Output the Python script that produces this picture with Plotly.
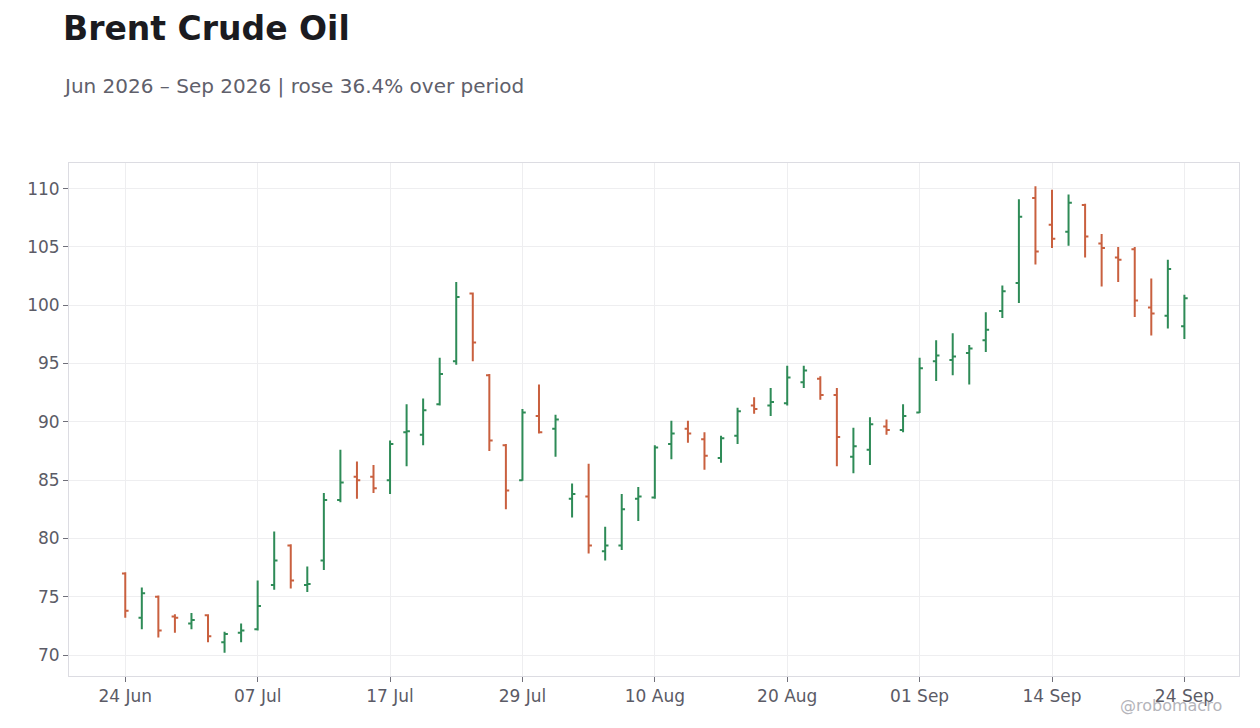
import pandas as pd
import plotly.graph_objects as go

# trading days (US calendar, 3 Jul and 7 Sep closed)
holidays = ["2026-07-03", "2026-09-07"]
dates = pd.bdate_range("2026-06-24", "2026-09-24", freq="C", holidays=holidays)
date_labels = [d.strftime("%Y-%m-%d") for d in dates]

opens = [77.0, 73.2, 75.0, 73.3, 72.7, 73.4, 71.1, 71.9, 72.2, 76.0,
         79.4, 76.0, 78.1, 83.3, 85.3, 85.3, 85.0, 89.1, 88.9, 91.5,
         95.2, 101.0, 94.0, 88.0, 85.0, 90.5, 89.4, 83.4, 83.6, 78.9,
         79.4, 83.4, 83.5, 88.1, 89.4, 88.5, 86.9, 88.8, 91.4, 91.4,
         91.6, 93.4, 93.7, 92.3, 87.0, 87.6, 89.6, 89.3, 90.8, 95.2,
         95.3, 95.9, 97.0, 99.5, 101.9, 109.2, 106.9, 106.3, 108.6, 105.3,
         104.1, 104.8, 99.8, 99.1, 98.2]
highs = [77.1, 75.8, 75.1, 73.5, 73.6, 73.5, 72.0, 72.7, 76.4, 80.6,
         79.5, 77.6, 83.9, 87.6, 86.6, 86.3, 88.4, 91.5, 92.0, 95.5,
         102.0, 101.1, 94.1, 88.1, 91.1, 93.2, 90.6, 84.7, 86.4, 81.0,
         83.8, 84.4, 88.0, 90.1, 90.1, 89.1, 88.8, 91.2, 92.1, 92.9,
         94.8, 94.8, 93.9, 92.9, 89.5, 90.4, 90.2, 91.5, 95.5, 97.0,
         97.6, 96.6, 99.4, 101.7, 109.1, 110.2, 109.9, 109.5, 108.7, 106.1,
         105.0, 105.0, 102.3, 103.9, 100.9]
lows = [73.2, 72.2, 71.5, 71.9, 72.2, 71.1, 70.2, 71.1, 72.1, 75.6,
        75.7, 75.4, 77.3, 83.1, 83.4, 83.9, 83.8, 86.2, 88.0, 91.4,
        94.9, 95.2, 87.5, 82.5, 84.95, 89.0, 87.0, 81.8, 78.7, 78.1,
        79.0, 81.5, 83.4, 86.8, 88.2, 85.9, 86.5, 88.1, 90.7, 90.5,
        91.4, 92.9, 91.9, 86.2, 85.6, 86.3, 88.9, 89.1, 90.75, 93.5,
        94.0, 93.2, 96.0, 98.9, 100.2, 103.5, 104.9, 105.1, 104.1, 101.6,
        102.0, 99.0, 97.4, 98.0, 97.1]
closes = [73.8, 75.3, 72.1, 73.2, 73.0, 71.6, 71.8, 72.1, 74.2, 78.1,
          76.4, 76.1, 83.3, 84.8, 85.0, 84.3, 88.1, 89.2, 91.0, 94.1,
          100.7, 96.8, 88.4, 84.1, 90.8, 89.1, 90.2, 83.8, 79.4, 79.4,
          82.5, 83.6, 87.8, 89.0, 89.0, 87.1, 88.6, 90.9, 91.1, 91.7,
          93.8, 94.4, 92.3, 88.7, 87.9, 89.8, 89.3, 90.5, 94.6, 95.7,
          95.6, 96.3, 97.9, 101.2, 107.6, 104.6, 105.7, 108.8, 105.9, 104.9,
          103.9, 100.4, 99.3, 103.1, 100.6]

tick_vals = date_labels[::8]
tick_text = [d.strftime("%d %b") for d in dates[::8]]

UP = "#2e8b57"
DOWN = "#c9603f"
TEXT = "#5b5b66"
GRID = "#eeeef0"

fig = go.Figure()

fig.add_trace(
    go.Ohlc(
        x=date_labels,
        open=opens,
        high=highs,
        low=lows,
        close=closes,
        increasing=dict(line=dict(color=UP, width=2)),
        decreasing=dict(line=dict(color=DOWN, width=2)),
        tickwidth=0.2,
        showlegend=False,
    )
)

# title, subtitle and handle
fig.add_annotation(
    text="<b>Brent Crude Oil</b>", xref="paper", yref="paper",
    x=-0.007, y=1.262, xanchor="left", yanchor="middle", showarrow=False,
    font=dict(size=33, color="#1b1b20"),
)
fig.add_annotation(
    text="Jun 2026 – Sep 2026 | rose 36.4% over period", xref="paper", yref="paper",
    x=-0.007, y=1.150, xanchor="left", yanchor="middle", showarrow=False,
    font=dict(size=20, color="#60606b"),
)
fig.add_annotation(
    text="@robomacro", xref="paper", yref="paper",
    x=0.987, y=-0.058, xanchor="right", yanchor="middle", showarrow=False,
    font=dict(size=16, color="#b4b4ba"),
)

fig.update_layout(
    width=1260,
    height=728,
    paper_bgcolor="white",
    plot_bgcolor="white",
    font=dict(family="DejaVu Sans", size=17, color=TEXT),
    margin=dict(l=61, r=29, t=155, b=60),
    xaxis=dict(
        type="category",
        range=[-3.4, 67.3],
        tickvals=tick_vals,
        ticktext=tick_text,
        showgrid=True,
        gridcolor=GRID,
        showline=True,
        linecolor="#dcdce2",
        mirror=True,
        ticks="outside",
        ticklen=5,
        tickcolor="#70707a",
        rangeslider=dict(visible=False),
    ),
    yaxis=dict(
        range=[68.2, 112.2],
        dtick=5,
        showgrid=True,
        gridcolor=GRID,
        showline=True,
        linecolor="#dcdce2",
        mirror=True,
        ticks="outside",
        ticklen=5,
        tickcolor="#70707a",
        zeroline=False,
    ),
)

fig.write_html("out.html")
